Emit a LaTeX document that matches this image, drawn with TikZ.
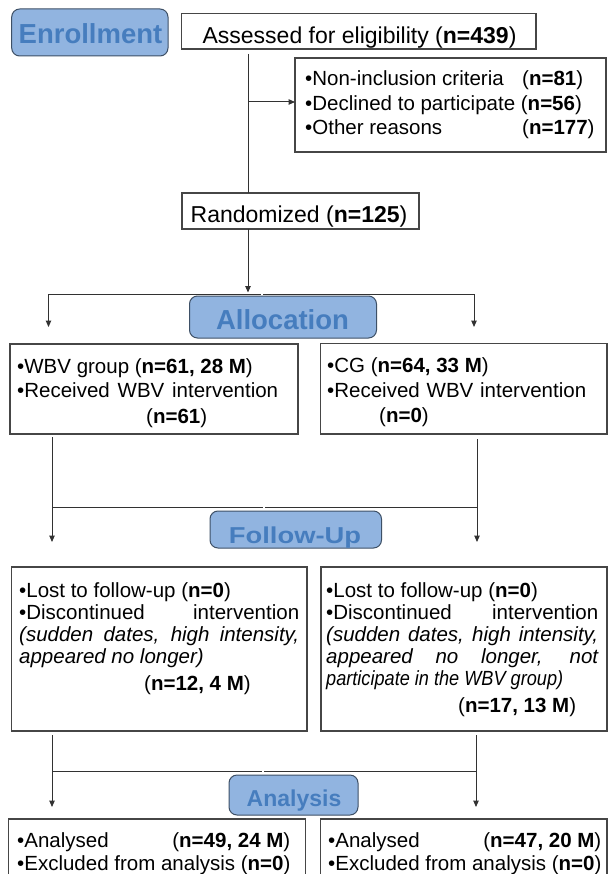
\documentclass[tikz,border=0pt]{standalone}
\usepackage{fontspec}
\usepackage{graphicx}
\setmainfont{Liberation Sans}
\usetikzlibrary{arrows.meta}
\definecolor{phasefill}{RGB}{145,180,224}
\definecolor{phasedraw}{RGB}{62,80,102}
\definecolor{phasetext}{RGB}{70,125,190}
\definecolor{linegray}{RGB}{50,50,50}
\definecolor{boxgray}{RGB}{70,70,70}
\begin{document}
\begin{tikzpicture}[x=1pt,y=-1pt,
  box/.style={draw=boxgray, line width=1.1pt, fill=white, rectangle, inner sep=0pt, outer sep=0pt},
  phase/.style={draw=phasedraw, fill=phasefill, line width=1pt, rounded corners=8pt, rectangle, inner sep=0pt, outer sep=0pt},
  pht/.style={inner sep=0pt, anchor=base, text=phasetext, font=\fontsize{27.5}{30}\selectfont\bfseries},
  t/.style={inner sep=0pt, anchor=base west, font=\fontsize{20.5}{24}\selectfont},
  tc/.style={inner sep=0pt, anchor=base, font=\fontsize{23}{26}\selectfont},
  conn/.style={draw=linegray, line width=1pt},
  arr/.style={conn, -{Triangle[length=6.5pt,width=5.5pt]}}
]
\useasboundingbox (0,0) rectangle (609,874);
\fill[white] (0,0) rectangle (609,874);
\clip (0,0) rectangle (609,874);

% ---------- phase boxes ----------
\node[phase, minimum width=156.3pt, minimum height=47pt] (enr) at (89.85,32.5) {};
\node[pht] (enrT) at (90.5,43.3) {Enrollment};
\node[phase, minimum width=187pt, minimum height=42pt] (alc) at (283,317) {};
\node[pht] (alcT) at (282.5,329.3) {Allocation};
\node[phase, minimum width=171.5pt, minimum height=37pt] (fup) at (295.75,529.5) {};
\node[pht] (fupT) at (295,543) {\scalebox{1.19}[1]{\fontsize{23}{26}\selectfont\bfseries Follow-Up}};
\node[phase, minimum width=129pt, minimum height=40pt] (ana) at (293.5,795) {};
\node[pht, font=\fontsize{23}{26}\selectfont\bfseries] (anaT) at (294,806) {Analysis};

% ---------- white boxes ----------
\node[box, minimum width=354.3pt, minimum height=35.5pt] (ass) at (358.85,31.25) {};
\node[tc] (assT) at (359.5,43.3) {Assessed for eligibility (\textbf{n=439})};

\node[box, minimum width=311pt, minimum height=94pt] (exc) at (450.5,105) {};
\node[t] (ex1) at (305,86) {•Non-inclusion criteria};
\node[t] (ex1n) at (522,86) {(\textbf{n=81})};
\node[t] (ex2) at (305,110.5) {•Declined to participate (\textbf{n=56})};
\node[t] (ex3) at (305,135) {•Other reasons};
\node[t] (ex3n) at (522,135) {(\textbf{n=177})};

\node[box, minimum width=237pt, minimum height=36pt] (rnd) at (300.5,211) {};
\node[tc] (rndT) at (299,222.7) {Randomized (\textbf{n=125})};

\node[box, minimum width=288pt, minimum height=90pt] (wbv) at (154,389) {};
\node[t] (w1) at (17,373) {•WBV group (\textbf{n=61, 28 M})};
\node[t] (w2) at (17,397) {\makebox[261pt][s]{•Received WBV intervention}};
\node[t] (w3) at (146,423) {(\textbf{n=61})};

\node[box, minimum width=286.5pt, minimum height=90.5pt] (cg) at (463.75,388.75) {};
\node[t] (c1) at (327,372) {•CG (\textbf{n=64, 33 M})};
\node[t] (c2) at (327,397) {\makebox[259pt][s]{•Received WBV intervention}};
\node[t] (c3) at (379,422) {(\textbf{n=0})};

\node[box, minimum width=295.3pt, minimum height=164pt] (fl) at (159.35,649) {};
\node[t] (fl1) at (19,597) {•Lost to follow-up (\textbf{n=0})};
\node[t] (fl2) at (19,619) {\makebox[280pt][s]{•Discontinued intervention}};
\node[t] (fl3) at (19,641) {\makebox[280pt][s]{\itshape (sudden dates, high intensity,}};
\node[t] (fl4) at (19,663) {\itshape appeared no longer)};
\node[t] (fl5) at (144,690) {(\textbf{n=12, 4 M})};

\node[box, minimum width=286pt, minimum height=164pt] (fr) at (464,649) {};
\node[t] (fr1) at (326,597) {•Lost to follow-up (\textbf{n=0})};
\node[t] (fr2) at (326,619) {\makebox[272pt][s]{•Discontinued intervention}};
\node[t] (fr3) at (326,641) {\makebox[272pt][s]{\itshape (sudden dates, high intensity,}};
\node[t] (fr4) at (326,663) {\makebox[272pt][s]{\itshape appeared no longer, not}};
\node[t] (fr5) at (326,685) {\scalebox{0.885}[1]{\itshape participate in the WBV group)}};
\node[t] (fr6) at (458,712) {(\textbf{n=17, 13 M})};

\node[box, minimum width=297pt, minimum height=80pt] (bl) at (157,859) {};
\node[t] (bl1) at (17,847) {•Analysed};
\node[t, anchor=base east] (bl1n) at (290.5,847) {(\textbf{n=49, 24 M})};
\node[t] (bl2) at (17,870) {•Excluded from analysis (\textbf{n=0})};

\node[box, minimum width=286.3pt, minimum height=80pt] (br) at (463.85,859) {};
\node[t] (br1) at (328,847) {•Analysed};
\node[t, anchor=base east] (br1n) at (601.5,847) {(\textbf{n=47, 20 M})};
\node[t] (br2) at (328,870) {•Excluded from analysis (\textbf{n=0})};

% ---------- connectors ----------
\coordinate (vx) at (248,0);
\coordinate (brp) at (248,102);
\draw[conn] ([yshift=-5pt]ass.south -| vx) -- (rnd.north -| vx);
\draw[arr] (brp) -- (brp -| exc.west);

\coordinate (aL) at (48.5,294);
\coordinate (aR) at (474,294);
\coordinate (ag1) at (261,294);
\coordinate (ag2) at (263,294);
\draw[arr] (rnd.south -| vx) -- ([yshift=1.5pt]aL -| vx);
\draw[conn] (aL) -- (ag1);
\draw[conn] (ag2) -- (aR);
\draw[arr] (aL) -- ([yshift=17pt]wbv.north -| aL);
\draw[arr] (aR) -- ([yshift=16.5pt]cg.north -| aR);

\coordinate (bL) at (52,507);
\coordinate (bR) at (477,507);
\coordinate (bg1) at (263,507);
\coordinate (bg2) at (265,507);
\draw[conn] ([yshift=-3pt]wbv.south -| bL) -- (bL);
\draw[conn] ([yshift=-5pt]cg.south -| bR) -- (bR);
\draw[conn] (bL) -- (bg1);
\draw[conn] (bg2) -- (bR);
\draw[arr] (bL) -- ([yshift=25pt]fl.north -| bL);
\draw[arr] (bR) -- ([yshift=25pt]fr.north -| bR);

\coordinate (cL) at (52,771);
\coordinate (cR) at (476,771);
\coordinate (cg1) at (262,771);
\coordinate (cg2) at (264,771);
\draw[conn] ([yshift=-4pt]fl.south -| cL) -- (cL);
\draw[conn] ([yshift=-4pt]fr.south -| cR) -- (cR);
\draw[conn] (cL) -- (cg1);
\draw[conn] (cg2) -- (cR);
\draw[arr] (cL) -- ([yshift=12pt]bl.north -| cL);
\draw[arr] (cR) -- ([yshift=12pt]br.north -| cR);
\end{tikzpicture}
\end{document}
